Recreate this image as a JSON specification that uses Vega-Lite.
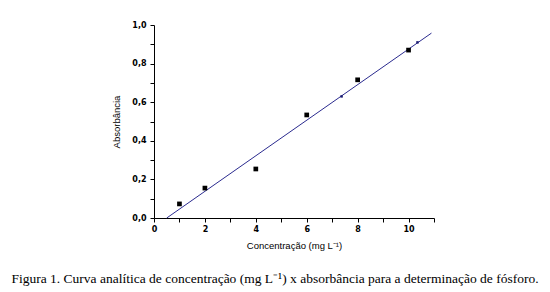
{
  "$schema": "https://vega.github.io/schema/vega-lite/v6.json",
  "autosize": "none",
  "width": 280,
  "height": 193,
  "padding": {"left": 154, "top": 25, "right": 116, "bottom": 74},
  "background": "white",
  "config": {"view": {"stroke": null}},
  "title": {
    "text": "Figura 1. Curva analítica de concentração (mg L⁻¹) x absorbância para a determinação de fósforo.",
    "orient": "bottom",
    "anchor": "middle",
    "font": "Liberation Serif",
    "fontSize": 13.5,
    "fontWeight": "normal",
    "color": "black",
    "offset": 22,
    "dx": -19
  },
  "datasets": {
    "pts": [
      {"conc": 1, "abs": 0.073},
      {"conc": 2, "abs": 0.155},
      {"conc": 4, "abs": 0.254},
      {"conc": 6, "abs": 0.534},
      {"conc": 8, "abs": 0.716},
      {"conc": 10, "abs": 0.87}
    ],
    "fit": [
      {"conc": 0.5, "abs": 0.0},
      {"conc": 10.9, "abs": 0.958}
    ],
    "dots": [
      {"conc": 7.37, "abs": 0.63},
      {"conc": 10.35, "abs": 0.91}
    ]
  },
  "encoding": {
    "x": {
      "field": "conc", "type": "quantitative",
      "scale": {"domain": [0, 11], "nice": false, "zero": false},
      "axis": {
        "values": [0,1,2,3,4,5,6,7,8,9,10,11],
        "labelExpr": "datum.value % 2 == 0 ? datum.label : ''",
        "labelOverlap": false,
        "title": "Concentração (mg L⁻¹)",
        "grid": false,
        "domainColor": "black",
        "tickColor": "black",
        "tickSize": 4,
        "labelFont": "DejaVu Sans",
        "labelFontSize": 8,
        "labelFontWeight": "bold",
        "labelColor": "black",
        "labelPadding": 3,
        "labelFlush": false,
        "titleFont": "Liberation Sans",
        "titleFontSize": 9.5,
        "titleFontWeight": "normal",
        "titleColor": "black",
        "titlePadding": 7
      }
    },
    "y": {
      "field": "abs", "type": "quantitative",
      "scale": {"domain": [0, 1], "nice": false},
      "axis": {
        "values": [0,0.1,0.2,0.3,0.4,0.5,0.6,0.7,0.8,0.9,1.0],
        "labelExpr": "abs(datum.value*5 - round(datum.value*5)) < 0.01 ? replace(format(datum.value, '.1f'), '.', ',') : ''",
        "labelOverlap": false,
        "title": "Absorbância",
        "grid": false,
        "domainColor": "black",
        "tickColor": "black",
        "tickSize": 4,
        "labelFont": "DejaVu Sans",
        "labelFontSize": 8,
        "labelFontWeight": "bold",
        "labelColor": "black",
        "labelPadding": 4,
        "labelFlush": false,
        "titleFont": "Liberation Sans",
        "titleFontSize": 9.5,
        "titleFontWeight": "normal",
        "titleColor": "black",
        "titlePadding": 10
      }
    }
  },
  "layer": [
    {
      "data": {"name": "fit"},
      "mark": {"type": "line", "color": "#2b2b8f", "strokeWidth": 1}
    },
    {
      "data": {"name": "dots"},
      "mark": {"type": "square", "color": "#1a1a70", "size": 6, "opacity": 1}
    },
    {
      "data": {"name": "pts"},
      "mark": {"type": "square", "color": "black", "size": 22, "opacity": 1}
    }
  ]
}
